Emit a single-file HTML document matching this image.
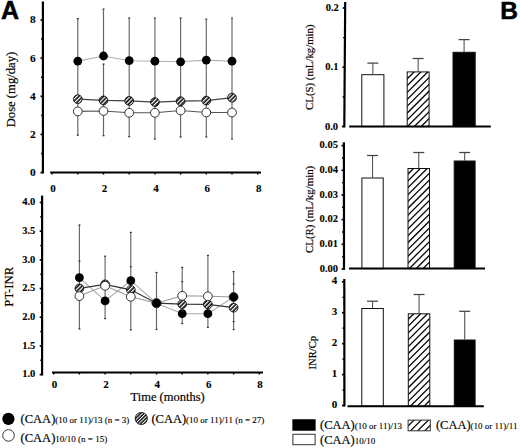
<!DOCTYPE html><html><head><meta charset="utf-8"><style>html,body{margin:0;padding:0;background:#fff;}svg{display:block;}</style></head><body>
<svg width="520" height="448" viewBox="0 0 520 448">
<defs>
<pattern id="hc" patternUnits="userSpaceOnUse" width="2.9" height="2.9" patternTransform="rotate(45)"><rect width="2.9" height="2.9" fill="#000"/><rect width="1.35" height="2.9" fill="#fff"/></pattern>
<pattern id="hb" patternUnits="userSpaceOnUse" width="4.8" height="4.8" patternTransform="rotate(45)"><rect width="4.8" height="4.8" fill="#fff"/><rect width="1.3" height="4.8" fill="#000"/></pattern>
<pattern id="hcl" patternUnits="userSpaceOnUse" width="2.45" height="2.45" patternTransform="translate(0.6,0) rotate(45)"><rect width="2.45" height="2.45" fill="#000"/><rect width="1.05" height="2.45" fill="#fff"/></pattern>
</defs>
<style>.r{stroke:#000;stroke-width:0.18px}.b{stroke:#000;stroke-width:0.1px}</style>
<rect width="520" height="448" fill="#fff"/>
<text x="1.0" y="18.7" font-family="Liberation Sans, sans-serif" font-weight="bold" font-size="25" stroke="#000" stroke-width="0.5">A</text>
<text x="500.2" y="19.3" font-family="Liberation Sans, sans-serif" font-weight="bold" font-size="24.5" stroke="#000" stroke-width="0.5">B</text>
<line x1="42.9" y1="1.5" x2="42.9" y2="173.5" stroke="#000" stroke-width="2.2"/><line x1="40.5" y1="172.6" x2="42.9" y2="172.6" stroke="#000" stroke-width="1.7"/><line x1="40.5" y1="134.44" x2="42.9" y2="134.44" stroke="#000" stroke-width="1.7"/><line x1="40.5" y1="96.28" x2="42.9" y2="96.28" stroke="#000" stroke-width="1.7"/><line x1="40.5" y1="58.12" x2="42.9" y2="58.12" stroke="#000" stroke-width="1.7"/><line x1="40.5" y1="19.96" x2="42.9" y2="19.96" stroke="#000" stroke-width="1.7"/><line x1="41" y1="153.52" x2="42.9" y2="153.52" stroke="#000" stroke-width="1.4"/><line x1="41" y1="115.36" x2="42.9" y2="115.36" stroke="#000" stroke-width="1.4"/><line x1="41" y1="77.2" x2="42.9" y2="77.2" stroke="#000" stroke-width="1.4"/><line x1="41" y1="39.04" x2="42.9" y2="39.04" stroke="#000" stroke-width="1.4"/><text x="35.8" y="176.1" text-anchor="end" font-family="Liberation Serif, serif" class="b" font-weight="bold" font-size="11.4">0</text><text x="35.8" y="137.94" text-anchor="end" font-family="Liberation Serif, serif" class="b" font-weight="bold" font-size="11.4">2</text><text x="35.8" y="99.78" text-anchor="end" font-family="Liberation Serif, serif" class="b" font-weight="bold" font-size="11.4">4</text><text x="35.8" y="61.62" text-anchor="end" font-family="Liberation Serif, serif" class="b" font-weight="bold" font-size="11.4">6</text><text x="35.8" y="23.46" text-anchor="end" font-family="Liberation Serif, serif" class="b" font-weight="bold" font-size="11.4">8</text>
<line x1="50.2" y1="172.6" x2="261" y2="172.6" stroke="#000" stroke-width="2"/><line x1="52.1" y1="172.6" x2="52.1" y2="174.6" stroke="#000" stroke-width="1.4"/><line x1="77.8" y1="172.6" x2="77.8" y2="174.6" stroke="#000" stroke-width="1.4"/><line x1="103.5" y1="172.6" x2="103.5" y2="174.6" stroke="#000" stroke-width="1.4"/><line x1="129.2" y1="172.6" x2="129.2" y2="174.6" stroke="#000" stroke-width="1.4"/><line x1="154.9" y1="172.6" x2="154.9" y2="174.6" stroke="#000" stroke-width="1.4"/><line x1="180.6" y1="172.6" x2="180.6" y2="174.6" stroke="#000" stroke-width="1.4"/><line x1="206.3" y1="172.6" x2="206.3" y2="174.6" stroke="#000" stroke-width="1.4"/><line x1="232" y1="172.6" x2="232" y2="174.6" stroke="#000" stroke-width="1.4"/><line x1="257.7" y1="172.6" x2="257.7" y2="174.6" stroke="#000" stroke-width="1.4"/><text x="53.1" y="191.8" text-anchor="middle" font-family="Liberation Serif, serif" class="b" font-weight="bold" font-size="11">0</text><text x="104.5" y="191.8" text-anchor="middle" font-family="Liberation Serif, serif" class="b" font-weight="bold" font-size="11">2</text><text x="155.9" y="191.8" text-anchor="middle" font-family="Liberation Serif, serif" class="b" font-weight="bold" font-size="11">4</text><text x="207.3" y="191.8" text-anchor="middle" font-family="Liberation Serif, serif" class="b" font-weight="bold" font-size="11">6</text><text x="258.7" y="191.8" text-anchor="middle" font-family="Liberation Serif, serif" class="b" font-weight="bold" font-size="11">8</text>
<text transform="translate(15.2,89.55) rotate(-90)" text-anchor="middle" class="r" font-family="Liberation Serif, serif" font-size="12.65">Dose (mg/day)</text>
<line x1="77.8" y1="18.6" x2="77.8" y2="135.2" stroke="#666" stroke-width="1.15"/>
<line x1="76.8" y1="18.6" x2="78.8" y2="18.6" stroke="#333" stroke-width="1.2"/>
<line x1="76.8" y1="135.2" x2="78.8" y2="135.2" stroke="#333" stroke-width="1.2"/>
<line x1="103.5" y1="9.1" x2="103.5" y2="56.0" stroke="#666" stroke-width="1.15"/>
<line x1="103.5" y1="64.1" x2="103.5" y2="135.7" stroke="#666" stroke-width="1.15"/>
<line x1="102.5" y1="64.1" x2="104.5" y2="64.1" stroke="#333" stroke-width="1.2"/>
<line x1="102.5" y1="9.1" x2="104.5" y2="9.1" stroke="#333" stroke-width="1.2"/>
<line x1="102.5" y1="135.7" x2="104.5" y2="135.7" stroke="#333" stroke-width="1.2"/>
<line x1="129.2" y1="18.1" x2="129.2" y2="136.6" stroke="#666" stroke-width="1.15"/>
<line x1="128.2" y1="18.1" x2="130.2" y2="18.1" stroke="#333" stroke-width="1.2"/>
<line x1="128.2" y1="136.6" x2="130.2" y2="136.6" stroke="#333" stroke-width="1.2"/>
<line x1="154.9" y1="18.0" x2="154.9" y2="139.0" stroke="#666" stroke-width="1.15"/>
<line x1="153.9" y1="18.0" x2="155.9" y2="18.0" stroke="#333" stroke-width="1.2"/>
<line x1="153.9" y1="139.0" x2="155.9" y2="139.0" stroke="#333" stroke-width="1.2"/>
<line x1="180.6" y1="18.0" x2="180.6" y2="137.0" stroke="#666" stroke-width="1.15"/>
<line x1="179.6" y1="18.0" x2="181.6" y2="18.0" stroke="#333" stroke-width="1.2"/>
<line x1="179.6" y1="137.0" x2="181.6" y2="137.0" stroke="#333" stroke-width="1.2"/>
<line x1="206.3" y1="19.2" x2="206.3" y2="137.0" stroke="#666" stroke-width="1.15"/>
<line x1="205.3" y1="19.2" x2="207.3" y2="19.2" stroke="#333" stroke-width="1.2"/>
<line x1="205.3" y1="137.0" x2="207.3" y2="137.0" stroke="#333" stroke-width="1.2"/>
<line x1="232" y1="18.0" x2="232" y2="139.0" stroke="#666" stroke-width="1.15"/>
<line x1="231" y1="18.0" x2="233" y2="18.0" stroke="#333" stroke-width="1.2"/>
<line x1="231" y1="139.0" x2="233" y2="139.0" stroke="#333" stroke-width="1.2"/>
<polyline points="77.8,61.1 103.5,56 129.2,60.7 154.9,61.2 180.6,61.8 206.3,60.1 232,61.2" fill="none" stroke="#b0b0b0" stroke-width="1.1"/>
<polyline points="77.8,99.2 103.5,100.4 129.2,100.9 154.9,102.1 180.6,101.2 206.3,100.6 232,97.7" fill="none" stroke="#444" stroke-width="1.2"/>
<polyline points="77.8,111.4 103.5,111 129.2,112.8 154.9,112.8 180.6,110.5 206.3,112.5 232,112.5" fill="none" stroke="#555" stroke-width="1.1"/>
<circle cx="77.8" cy="111.4" r="4.4" fill="#fff" stroke="#333" stroke-width="1"/>
<circle cx="77.8" cy="99.2" r="4.4" fill="url(#hc)" stroke="#000" stroke-width="0.8"/>
<circle cx="77.8" cy="61.1" r="4.4" fill="#000"/>
<circle cx="103.5" cy="111.0" r="4.4" fill="#fff" stroke="#333" stroke-width="1"/>
<circle cx="103.5" cy="100.4" r="4.4" fill="url(#hc)" stroke="#000" stroke-width="0.8"/>
<circle cx="103.5" cy="56.0" r="4.4" fill="#000"/>
<circle cx="129.2" cy="112.8" r="4.4" fill="#fff" stroke="#333" stroke-width="1"/>
<circle cx="129.2" cy="100.9" r="4.4" fill="url(#hc)" stroke="#000" stroke-width="0.8"/>
<circle cx="129.2" cy="60.7" r="4.4" fill="#000"/>
<circle cx="154.9" cy="112.8" r="4.4" fill="#fff" stroke="#333" stroke-width="1"/>
<circle cx="154.9" cy="102.1" r="4.4" fill="url(#hc)" stroke="#000" stroke-width="0.8"/>
<circle cx="154.9" cy="61.2" r="4.4" fill="#000"/>
<circle cx="180.6" cy="110.5" r="4.4" fill="#fff" stroke="#333" stroke-width="1"/>
<circle cx="180.6" cy="101.2" r="4.4" fill="url(#hc)" stroke="#000" stroke-width="0.8"/>
<circle cx="180.6" cy="61.8" r="4.4" fill="#000"/>
<circle cx="206.3" cy="112.5" r="4.4" fill="#fff" stroke="#333" stroke-width="1"/>
<circle cx="206.3" cy="100.6" r="4.4" fill="url(#hc)" stroke="#000" stroke-width="0.8"/>
<circle cx="206.3" cy="60.1" r="4.4" fill="#000"/>
<circle cx="232" cy="112.5" r="4.4" fill="#fff" stroke="#333" stroke-width="1"/>
<circle cx="232" cy="97.7" r="4.4" fill="url(#hc)" stroke="#000" stroke-width="0.8"/>
<circle cx="232" cy="61.2" r="4.4" fill="#000"/>
<line x1="42.1" y1="195.6" x2="42.1" y2="375.5" stroke="#000" stroke-width="2.2"/><line x1="39.7" y1="202.5" x2="42.1" y2="202.5" stroke="#000" stroke-width="1.7"/><line x1="39.7" y1="231.19" x2="42.1" y2="231.19" stroke="#000" stroke-width="1.7"/><line x1="39.7" y1="259.87" x2="42.1" y2="259.87" stroke="#000" stroke-width="1.7"/><line x1="39.7" y1="288.56" x2="42.1" y2="288.56" stroke="#000" stroke-width="1.7"/><line x1="39.7" y1="317.24" x2="42.1" y2="317.24" stroke="#000" stroke-width="1.7"/><line x1="39.7" y1="345.92" x2="42.1" y2="345.92" stroke="#000" stroke-width="1.7"/><line x1="39.7" y1="374.61" x2="42.1" y2="374.61" stroke="#000" stroke-width="1.7"/><line x1="40.2" y1="216.84" x2="42.1" y2="216.84" stroke="#000" stroke-width="1.4"/><line x1="40.2" y1="245.53" x2="42.1" y2="245.53" stroke="#000" stroke-width="1.4"/><line x1="40.2" y1="274.21" x2="42.1" y2="274.21" stroke="#000" stroke-width="1.4"/><line x1="40.2" y1="302.9" x2="42.1" y2="302.9" stroke="#000" stroke-width="1.4"/><line x1="40.2" y1="331.58" x2="42.1" y2="331.58" stroke="#000" stroke-width="1.4"/><line x1="40.2" y1="360.27" x2="42.1" y2="360.27" stroke="#000" stroke-width="1.4"/><text x="35.3" y="205.2" text-anchor="end" font-family="Liberation Serif, serif" class="b" font-weight="bold" font-size="10.5">4.0</text><text x="35.3" y="233.88" text-anchor="end" font-family="Liberation Serif, serif" class="b" font-weight="bold" font-size="10.5">3.5</text><text x="35.3" y="262.57" text-anchor="end" font-family="Liberation Serif, serif" class="b" font-weight="bold" font-size="10.5">3.0</text><text x="35.3" y="291.25" text-anchor="end" font-family="Liberation Serif, serif" class="b" font-weight="bold" font-size="10.5">2.5</text><text x="35.3" y="319.94" text-anchor="end" font-family="Liberation Serif, serif" class="b" font-weight="bold" font-size="10.5">2.0</text><text x="35.3" y="348.62" text-anchor="end" font-family="Liberation Serif, serif" class="b" font-weight="bold" font-size="10.5">1.5</text><text x="35.3" y="377.31" text-anchor="end" font-family="Liberation Serif, serif" class="b" font-weight="bold" font-size="10.5">1.0</text>
<line x1="52" y1="372.5" x2="263" y2="372.5" stroke="#000" stroke-width="2"/><line x1="53.7" y1="372.5" x2="53.7" y2="374.5" stroke="#000" stroke-width="1.4"/><line x1="79.4" y1="372.5" x2="79.4" y2="374.5" stroke="#000" stroke-width="1.4"/><line x1="105.1" y1="372.5" x2="105.1" y2="374.5" stroke="#000" stroke-width="1.4"/><line x1="130.8" y1="372.5" x2="130.8" y2="374.5" stroke="#000" stroke-width="1.4"/><line x1="156.5" y1="372.5" x2="156.5" y2="374.5" stroke="#000" stroke-width="1.4"/><line x1="182.2" y1="372.5" x2="182.2" y2="374.5" stroke="#000" stroke-width="1.4"/><line x1="207.9" y1="372.5" x2="207.9" y2="374.5" stroke="#000" stroke-width="1.4"/><line x1="233.6" y1="372.5" x2="233.6" y2="374.5" stroke="#000" stroke-width="1.4"/><line x1="259.3" y1="372.5" x2="259.3" y2="374.5" stroke="#000" stroke-width="1.4"/><text x="54.5" y="387.5" text-anchor="middle" font-family="Liberation Serif, serif" class="b" font-weight="bold" font-size="11">0</text><text x="105.9" y="387.5" text-anchor="middle" font-family="Liberation Serif, serif" class="b" font-weight="bold" font-size="11">2</text><text x="157.3" y="387.5" text-anchor="middle" font-family="Liberation Serif, serif" class="b" font-weight="bold" font-size="11">4</text><text x="208.7" y="387.5" text-anchor="middle" font-family="Liberation Serif, serif" class="b" font-weight="bold" font-size="11">6</text><text x="260.1" y="387.5" text-anchor="middle" font-family="Liberation Serif, serif" class="b" font-weight="bold" font-size="11">8</text>
<text x="167.6" y="401" text-anchor="middle" class="r" font-family="Liberation Serif, serif" font-size="12.5">Time (months)</text>
<text transform="translate(13.4,286.7) rotate(-90)" text-anchor="middle" class="r" font-family="Liberation Serif, serif" font-size="12.75">PT-INR</text>
<line x1="79.4" y1="225.0" x2="79.4" y2="329.0" stroke="#666" stroke-width="1.15"/>
<line x1="78.4" y1="225.0" x2="80.4" y2="225.0" stroke="#333" stroke-width="1.2"/>
<line x1="78.4" y1="329.0" x2="80.4" y2="329.0" stroke="#333" stroke-width="1.2"/>
<line x1="78.4" y1="261.2" x2="80.4" y2="261.2" stroke="#333" stroke-width="1.2"/>
<line x1="105.1" y1="256.2" x2="105.1" y2="318.6" stroke="#666" stroke-width="1.15"/>
<line x1="104.1" y1="256.2" x2="106.1" y2="256.2" stroke="#333" stroke-width="1.2"/>
<line x1="104.1" y1="318.6" x2="106.1" y2="318.6" stroke="#333" stroke-width="1.2"/>
<line x1="130.8" y1="232.4" x2="130.8" y2="329.9" stroke="#666" stroke-width="1.15"/>
<line x1="129.8" y1="232.4" x2="131.8" y2="232.4" stroke="#333" stroke-width="1.2"/>
<line x1="129.8" y1="329.9" x2="131.8" y2="329.9" stroke="#333" stroke-width="1.2"/>
<line x1="129.8" y1="266.8" x2="131.8" y2="266.8" stroke="#333" stroke-width="1.2"/>
<line x1="156.5" y1="272.5" x2="156.5" y2="329.5" stroke="#666" stroke-width="1.15"/>
<line x1="155.5" y1="272.5" x2="157.5" y2="272.5" stroke="#333" stroke-width="1.2"/>
<line x1="155.5" y1="329.5" x2="157.5" y2="329.5" stroke="#333" stroke-width="1.2"/>
<line x1="182.2" y1="267.4" x2="182.2" y2="323.5" stroke="#666" stroke-width="1.15"/>
<line x1="181.2" y1="267.4" x2="183.2" y2="267.4" stroke="#333" stroke-width="1.2"/>
<line x1="181.2" y1="323.5" x2="183.2" y2="323.5" stroke="#333" stroke-width="1.2"/>
<line x1="181.2" y1="281.7" x2="183.2" y2="281.7" stroke="#333" stroke-width="1.2"/>
<line x1="207.9" y1="255.4" x2="207.9" y2="327.5" stroke="#666" stroke-width="1.15"/>
<line x1="206.9" y1="255.4" x2="208.9" y2="255.4" stroke="#333" stroke-width="1.2"/>
<line x1="206.9" y1="327.5" x2="208.9" y2="327.5" stroke="#333" stroke-width="1.2"/>
<line x1="233.6" y1="271.6" x2="233.6" y2="329.6" stroke="#666" stroke-width="1.15"/>
<line x1="232.6" y1="271.6" x2="234.6" y2="271.6" stroke="#333" stroke-width="1.2"/>
<line x1="232.6" y1="329.6" x2="234.6" y2="329.6" stroke="#333" stroke-width="1.2"/>
<line x1="232.6" y1="284.1" x2="234.6" y2="284.1" stroke="#333" stroke-width="1.2"/>
<line x1="232.6" y1="321.6" x2="234.6" y2="321.6" stroke="#333" stroke-width="1.2"/>
<polyline points="79.4,277.7 105.1,300.9 130.8,280.7 156.5,303.2 182.2,313.7 207.9,313.7 233.6,297" fill="none" stroke="#aaa" stroke-width="1.1"/>
<polyline points="79.4,296.1 105.1,285.8 130.8,296.8 156.5,303.2 182.2,295.8 207.9,296.3 233.6,297" fill="none" stroke="#999" stroke-width="1.1"/>
<polyline points="79.4,288.4 105.1,284.4 130.8,289.8 156.5,303.2 182.2,304.1 207.9,304.4 233.6,307.7" fill="none" stroke="#333" stroke-width="1.2"/>
<circle cx="79.4" cy="288.4" r="4.4" fill="url(#hc)" stroke="#000" stroke-width="0.8"/>
<circle cx="79.4" cy="296.1" r="4.4" fill="#fff" stroke="#333" stroke-width="1"/>
<circle cx="79.4" cy="277.7" r="4.4" fill="#000"/>
<circle cx="105.1" cy="284.4" r="4.4" fill="url(#hc)" stroke="#000" stroke-width="0.8"/>
<circle cx="105.1" cy="285.8" r="4.4" fill="#fff" stroke="#333" stroke-width="1"/>
<circle cx="105.1" cy="300.9" r="4.4" fill="#000"/>
<circle cx="130.8" cy="289.8" r="4.4" fill="url(#hc)" stroke="#000" stroke-width="0.8"/>
<circle cx="130.8" cy="296.8" r="4.4" fill="#fff" stroke="#333" stroke-width="1"/>
<circle cx="130.8" cy="280.7" r="4.4" fill="#000"/>
<circle cx="156.5" cy="303.2" r="4.4" fill="url(#hc)" stroke="#000" stroke-width="0.8"/>
<circle cx="156.5" cy="303.2" r="4.4" fill="#fff" stroke="#333" stroke-width="1"/>
<circle cx="156.5" cy="303.2" r="4.4" fill="#000"/>
<circle cx="182.2" cy="304.1" r="4.4" fill="url(#hc)" stroke="#000" stroke-width="0.8"/>
<circle cx="182.2" cy="295.8" r="4.4" fill="#fff" stroke="#333" stroke-width="1"/>
<circle cx="182.2" cy="313.7" r="4.4" fill="#000"/>
<circle cx="207.9" cy="304.4" r="4.4" fill="url(#hc)" stroke="#000" stroke-width="0.8"/>
<circle cx="207.9" cy="296.3" r="4.4" fill="#fff" stroke="#333" stroke-width="1"/>
<circle cx="207.9" cy="313.7" r="4.4" fill="#000"/>
<circle cx="233.6" cy="307.7" r="4.4" fill="url(#hc)" stroke="#000" stroke-width="0.8"/>
<circle cx="233.6" cy="297.0" r="4.4" fill="#fff" stroke="#333" stroke-width="1"/>
<circle cx="233.6" cy="297.0" r="4.4" fill="#000"/>
<circle cx="8.4" cy="418.9" r="6.1" fill="#000"/>
<circle cx="141.3" cy="418.5" r="6.1" fill="url(#hcl)" stroke="#000" stroke-width="0.8"/>
<circle cx="8.5" cy="435.4" r="5.8" fill="#fff" stroke="#333" stroke-width="1"/>
<text x="20.6" y="423.4" class="r" font-family="Liberation Serif, serif" font-size="12.5">(CAA)<tspan font-size="9" stroke-width="0.12">(10 or 11)/13 (n = 3)</tspan></text>
<text x="151.4" y="423.4" class="r" font-family="Liberation Serif, serif" font-size="12.5">(CAA)<tspan font-size="9" stroke-width="0.12">(10 or 11)/11 (n = 27)</tspan></text>
<text x="20.6" y="441.6" class="r" font-family="Liberation Serif, serif" font-size="12.5">(CAA)<tspan font-size="9" stroke-width="0.12">10/10 (n = 15)</tspan></text>
<line x1="372.85" y1="63.1" x2="372.85" y2="74.2" stroke="#555" stroke-width="1.1"/><line x1="367.35" y1="63.1" x2="378.35" y2="63.1" stroke="#444" stroke-width="1.25"/><rect x="361.8" y="74.7" width="22.1" height="51.9" fill="#fff" stroke="#111" stroke-width="1"/><line x1="418.15" y1="58.5" x2="418.15" y2="71.4" stroke="#555" stroke-width="1.1"/><line x1="412.65" y1="58.5" x2="423.65" y2="58.5" stroke="#444" stroke-width="1.25"/><clipPath id="hc1"><rect x="407.2" y="71.9" width="21.9" height="54.7"/></clipPath><rect x="407.2" y="71.9" width="21.9" height="54.7" fill="#fff"/><g clip-path="url(#hc1)" stroke="#000" stroke-width="1.3"><line x1="337.85" y1="127.6" x2="394.55" y2="70.9"/><line x1="344.7" y1="127.6" x2="401.4" y2="70.9"/><line x1="351.55" y1="127.6" x2="408.25" y2="70.9"/><line x1="358.4" y1="127.6" x2="415.1" y2="70.9"/><line x1="365.25" y1="127.6" x2="421.95" y2="70.9"/><line x1="372.1" y1="127.6" x2="428.8" y2="70.9"/><line x1="378.95" y1="127.6" x2="435.65" y2="70.9"/><line x1="385.8" y1="127.6" x2="442.5" y2="70.9"/><line x1="392.65" y1="127.6" x2="449.35" y2="70.9"/><line x1="399.5" y1="127.6" x2="456.2" y2="70.9"/><line x1="406.35" y1="127.6" x2="463.05" y2="70.9"/><line x1="413.2" y1="127.6" x2="469.9" y2="70.9"/><line x1="420.05" y1="127.6" x2="476.75" y2="70.9"/><line x1="426.9" y1="127.6" x2="483.6" y2="70.9"/><line x1="433.75" y1="127.6" x2="490.45" y2="70.9"/><line x1="440.6" y1="127.6" x2="497.3" y2="70.9"/></g><rect x="407.2" y="71.9" width="21.9" height="54.7" fill="none" stroke="#111" stroke-width="1"/><line x1="464.1" y1="39.6" x2="464.1" y2="51.8" stroke="#555" stroke-width="1.1"/><line x1="458.6" y1="39.6" x2="469.6" y2="39.6" stroke="#444" stroke-width="1.25"/><rect x="453" y="52.3" width="22.2" height="74.3" fill="#000" stroke="#111" stroke-width="1"/><line x1="345.2" y1="2.0" x2="344.3" y2="127.5" stroke="#000" stroke-width="2.2"/><line x1="342.76" y1="8" x2="345.16" y2="8" stroke="#000" stroke-width="1.7"/><line x1="342.33" y1="67.25" x2="344.73" y2="67.25" stroke="#000" stroke-width="1.7"/><line x1="341.91" y1="126.5" x2="344.31" y2="126.5" stroke="#000" stroke-width="1.7"/><line x1="343.04" y1="37.63" x2="344.94" y2="37.63" stroke="#000" stroke-width="1.4"/><line x1="342.62" y1="96.88" x2="344.52" y2="96.88" stroke="#000" stroke-width="1.4"/><text x="338.86" y="11.1" text-anchor="end" font-family="Liberation Serif, serif" class="b" font-weight="bold" font-size="10.5">0.2</text><text x="338.44" y="70.35" text-anchor="end" font-family="Liberation Serif, serif" class="b" font-weight="bold" font-size="10.5">0.1</text><text x="338.01" y="129.6" text-anchor="end" font-family="Liberation Serif, serif" class="b" font-weight="bold" font-size="10.5">0.0</text><line x1="349.2" y1="126.6" x2="490.8" y2="126.6" stroke="#000" stroke-width="2"/><text transform="translate(312.9,67.15) rotate(-90)" text-anchor="middle" class="r" font-family="Liberation Serif, serif" font-size="10.8">CL(S) (mL/kg/min)</text>
<line x1="372.55" y1="155.5" x2="372.55" y2="177.5" stroke="#555" stroke-width="1.1"/><line x1="367.05" y1="155.5" x2="378.05" y2="155.5" stroke="#444" stroke-width="1.25"/><rect x="361.9" y="178" width="21.3" height="90.6" fill="#fff" stroke="#111" stroke-width="1"/><line x1="418.75" y1="152.5" x2="418.75" y2="168.0" stroke="#555" stroke-width="1.1"/><line x1="413.25" y1="152.5" x2="424.25" y2="152.5" stroke="#444" stroke-width="1.25"/><clipPath id="hc2"><rect x="408" y="168.5" width="21.5" height="100.1"/></clipPath><rect x="408" y="168.5" width="21.5" height="100.1" fill="#fff"/><g clip-path="url(#hc2)" stroke="#000" stroke-width="1.3"><line x1="298.7" y1="269.6" x2="400.8" y2="167.5"/><line x1="305.55" y1="269.6" x2="407.65" y2="167.5"/><line x1="312.4" y1="269.6" x2="414.5" y2="167.5"/><line x1="319.25" y1="269.6" x2="421.35" y2="167.5"/><line x1="326.1" y1="269.6" x2="428.2" y2="167.5"/><line x1="332.95" y1="269.6" x2="435.05" y2="167.5"/><line x1="339.8" y1="269.6" x2="441.9" y2="167.5"/><line x1="346.65" y1="269.6" x2="448.75" y2="167.5"/><line x1="353.5" y1="269.6" x2="455.6" y2="167.5"/><line x1="360.35" y1="269.6" x2="462.45" y2="167.5"/><line x1="367.2" y1="269.6" x2="469.3" y2="167.5"/><line x1="374.05" y1="269.6" x2="476.15" y2="167.5"/><line x1="380.9" y1="269.6" x2="483" y2="167.5"/><line x1="387.75" y1="269.6" x2="489.85" y2="167.5"/><line x1="394.6" y1="269.6" x2="496.7" y2="167.5"/><line x1="401.45" y1="269.6" x2="503.55" y2="167.5"/><line x1="408.3" y1="269.6" x2="510.4" y2="167.5"/><line x1="415.15" y1="269.6" x2="517.25" y2="167.5"/><line x1="422" y1="269.6" x2="524.1" y2="167.5"/><line x1="428.85" y1="269.6" x2="530.95" y2="167.5"/><line x1="435.7" y1="269.6" x2="537.8" y2="167.5"/></g><rect x="408" y="168.5" width="21.5" height="100.1" fill="none" stroke="#111" stroke-width="1"/><line x1="464.65" y1="152.5" x2="464.65" y2="160.5" stroke="#555" stroke-width="1.1"/><line x1="459.15" y1="152.5" x2="470.15" y2="152.5" stroke="#444" stroke-width="1.25"/><rect x="454.2" y="161" width="20.9" height="107.6" fill="#000" stroke="#111" stroke-width="1"/><line x1="343.9" y1="142.3" x2="344" y2="270.0" stroke="#000" stroke-width="2.2"/><line x1="341.6" y1="269" x2="344" y2="269" stroke="#000" stroke-width="1.7"/><line x1="341.58" y1="244.32" x2="343.98" y2="244.32" stroke="#000" stroke-width="1.7"/><line x1="341.56" y1="219.64" x2="343.96" y2="219.64" stroke="#000" stroke-width="1.7"/><line x1="341.54" y1="194.96" x2="343.94" y2="194.96" stroke="#000" stroke-width="1.7"/><line x1="341.52" y1="170.28" x2="343.92" y2="170.28" stroke="#000" stroke-width="1.7"/><line x1="341.5" y1="145.6" x2="343.9" y2="145.6" stroke="#000" stroke-width="1.7"/><line x1="342.09" y1="256.66" x2="343.99" y2="256.66" stroke="#000" stroke-width="1.4"/><line x1="342.07" y1="231.98" x2="343.97" y2="231.98" stroke="#000" stroke-width="1.4"/><line x1="342.05" y1="207.3" x2="343.95" y2="207.3" stroke="#000" stroke-width="1.4"/><line x1="342.03" y1="182.62" x2="343.93" y2="182.62" stroke="#000" stroke-width="1.4"/><line x1="342.01" y1="157.94" x2="343.91" y2="157.94" stroke="#000" stroke-width="1.4"/><text x="338" y="271.6" text-anchor="end" font-family="Liberation Serif, serif" class="b" font-weight="bold" font-size="10.5">0.00</text><text x="337.98" y="246.92" text-anchor="end" font-family="Liberation Serif, serif" class="b" font-weight="bold" font-size="10.5">0.01</text><text x="337.96" y="222.24" text-anchor="end" font-family="Liberation Serif, serif" class="b" font-weight="bold" font-size="10.5">0.02</text><text x="337.94" y="197.56" text-anchor="end" font-family="Liberation Serif, serif" class="b" font-weight="bold" font-size="10.5">0.03</text><text x="337.92" y="172.88" text-anchor="end" font-family="Liberation Serif, serif" class="b" font-weight="bold" font-size="10.5">0.04</text><text x="337.9" y="148.2" text-anchor="end" font-family="Liberation Serif, serif" class="b" font-weight="bold" font-size="10.5">0.05</text><line x1="349.0" y1="268.6" x2="485.0" y2="268.6" stroke="#000" stroke-width="2"/><text transform="translate(313.0,209.4) rotate(-90)" text-anchor="middle" class="r" font-family="Liberation Serif, serif" font-size="10.86">CL(R) (mL/kg/min)</text>
<line x1="372.55" y1="301.2" x2="372.55" y2="308.0" stroke="#555" stroke-width="1.1"/><line x1="367.05" y1="301.2" x2="378.05" y2="301.2" stroke="#444" stroke-width="1.25"/><rect x="361.8" y="308.5" width="21.5" height="97.7" fill="#fff" stroke="#111" stroke-width="1"/><line x1="419.05" y1="294.5" x2="419.05" y2="313.3" stroke="#555" stroke-width="1.1"/><line x1="413.55" y1="294.5" x2="424.55" y2="294.5" stroke="#444" stroke-width="1.25"/><clipPath id="hc3"><rect x="408.3" y="313.8" width="21.5" height="92.4"/></clipPath><rect x="408.3" y="313.8" width="21.5" height="92.4" fill="#fff"/><g clip-path="url(#hc3)" stroke="#000" stroke-width="1.3"><line x1="306.6" y1="407.2" x2="401" y2="312.8"/><line x1="313.45" y1="407.2" x2="407.85" y2="312.8"/><line x1="320.3" y1="407.2" x2="414.7" y2="312.8"/><line x1="327.15" y1="407.2" x2="421.55" y2="312.8"/><line x1="334" y1="407.2" x2="428.4" y2="312.8"/><line x1="340.85" y1="407.2" x2="435.25" y2="312.8"/><line x1="347.7" y1="407.2" x2="442.1" y2="312.8"/><line x1="354.55" y1="407.2" x2="448.95" y2="312.8"/><line x1="361.4" y1="407.2" x2="455.8" y2="312.8"/><line x1="368.25" y1="407.2" x2="462.65" y2="312.8"/><line x1="375.1" y1="407.2" x2="469.5" y2="312.8"/><line x1="381.95" y1="407.2" x2="476.35" y2="312.8"/><line x1="388.8" y1="407.2" x2="483.2" y2="312.8"/><line x1="395.65" y1="407.2" x2="490.05" y2="312.8"/><line x1="402.5" y1="407.2" x2="496.9" y2="312.8"/><line x1="409.35" y1="407.2" x2="503.75" y2="312.8"/><line x1="416.2" y1="407.2" x2="510.6" y2="312.8"/><line x1="423.05" y1="407.2" x2="517.45" y2="312.8"/><line x1="429.9" y1="407.2" x2="524.3" y2="312.8"/><line x1="436.75" y1="407.2" x2="531.15" y2="312.8"/></g><rect x="408.3" y="313.8" width="21.5" height="92.4" fill="none" stroke="#111" stroke-width="1"/><line x1="464.7" y1="311.3" x2="464.7" y2="339.5" stroke="#555" stroke-width="1.1"/><line x1="459.2" y1="311.3" x2="470.2" y2="311.3" stroke="#444" stroke-width="1.25"/><rect x="454.3" y="340" width="20.8" height="66.2" fill="#000" stroke="#111" stroke-width="1"/><line x1="344.3" y1="279.1" x2="344.4" y2="406.5" stroke="#000" stroke-width="2.2"/><line x1="342" y1="405.5" x2="344.4" y2="405.5" stroke="#000" stroke-width="1.7"/><line x1="341.97" y1="374.57" x2="344.37" y2="374.57" stroke="#000" stroke-width="1.7"/><line x1="341.95" y1="343.65" x2="344.35" y2="343.65" stroke="#000" stroke-width="1.7"/><line x1="341.93" y1="312.73" x2="344.33" y2="312.73" stroke="#000" stroke-width="1.7"/><line x1="341.9" y1="281.8" x2="344.3" y2="281.8" stroke="#000" stroke-width="1.7"/><line x1="342.49" y1="390.04" x2="344.39" y2="390.04" stroke="#000" stroke-width="1.4"/><line x1="342.46" y1="359.11" x2="344.36" y2="359.11" stroke="#000" stroke-width="1.4"/><line x1="342.44" y1="328.19" x2="344.34" y2="328.19" stroke="#000" stroke-width="1.4"/><line x1="342.41" y1="297.26" x2="344.31" y2="297.26" stroke="#000" stroke-width="1.4"/><text x="337.3" y="407.7" text-anchor="end" font-family="Liberation Serif, serif" class="b" font-weight="bold" font-size="11">0</text><text x="337.27" y="376.78" text-anchor="end" font-family="Liberation Serif, serif" class="b" font-weight="bold" font-size="11">1</text><text x="337.25" y="345.85" text-anchor="end" font-family="Liberation Serif, serif" class="b" font-weight="bold" font-size="11">2</text><text x="337.23" y="314.93" text-anchor="end" font-family="Liberation Serif, serif" class="b" font-weight="bold" font-size="11">3</text><text x="337.2" y="284" text-anchor="end" font-family="Liberation Serif, serif" class="b" font-weight="bold" font-size="11">4</text><line x1="347.5" y1="406.2" x2="483.8" y2="406.2" stroke="#000" stroke-width="2"/><text transform="translate(316.3,352.7) rotate(-90)" text-anchor="middle" class="r" font-family="Liberation Serif, serif" font-size="10.6">INR/Cp</text>
<rect x="292.9" y="419.8" width="22.2" height="10.4" fill="#000" stroke="#000" stroke-width="1"/>
<clipPath id="hc4"><rect x="408.1" y="420.1" width="22.2" height="10.7"/></clipPath><rect x="408.1" y="420.1" width="22.2" height="10.7" fill="#fff"/><g clip-path="url(#hc4)" stroke="#000" stroke-width="1.2"><line x1="387.9" y1="431.8" x2="400.6" y2="419.1"/><line x1="395.1" y1="431.8" x2="407.8" y2="419.1"/><line x1="402.3" y1="431.8" x2="415" y2="419.1"/><line x1="409.5" y1="431.8" x2="422.2" y2="419.1"/><line x1="416.7" y1="431.8" x2="429.4" y2="419.1"/><line x1="423.9" y1="431.8" x2="436.6" y2="419.1"/><line x1="431.1" y1="431.8" x2="443.8" y2="419.1"/><line x1="438.3" y1="431.8" x2="451" y2="419.1"/></g><rect x="408.1" y="420.1" width="22.2" height="10.7" fill="none" stroke="#333" stroke-width="1"/>
<rect x="292.9" y="434.3" width="22.2" height="10.4" fill="#fff" stroke="#333" stroke-width="1"/>
<text x="320.0" y="429.3" class="r" font-family="Liberation Serif, serif" font-size="12.5">(CAA)<tspan font-size="9" stroke-width="0.12">(10 or 11)/13</tspan></text>
<text x="435.9" y="429.3" class="r" font-family="Liberation Serif, serif" font-size="12.5">(CAA)<tspan font-size="9" stroke-width="0.12">(10 or 11)/11</tspan></text>
<text x="320.0" y="443.7" class="r" font-family="Liberation Serif, serif" font-size="12.5">(CAA)<tspan font-size="9" stroke-width="0.12">10/10</tspan></text>
</svg></body></html>
